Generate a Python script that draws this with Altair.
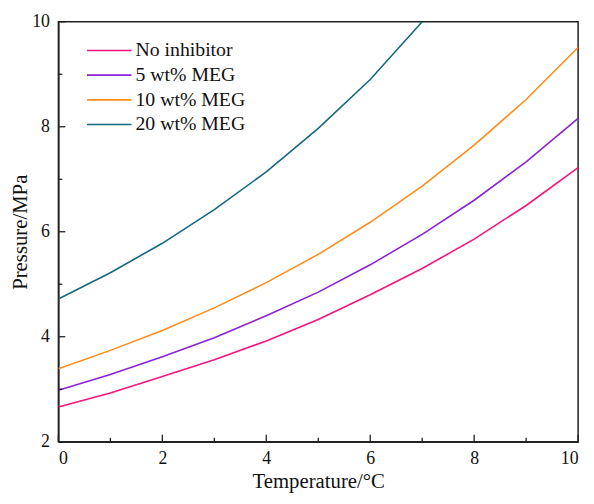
import altair as alt
import pandas as pd

temps = [0, 1, 2, 3, 4, 5, 6, 7, 8, 9, 10]
no_inhibitor = [2.66, 2.93, 3.24, 3.56, 3.92, 4.33, 4.80, 5.30, 5.86, 6.50, 7.22]
meg5 = [2.98, 3.28, 3.62, 3.98, 4.40, 4.85, 5.37, 5.95, 6.60, 7.33, 8.16]
meg10 = [3.39, 3.74, 4.12, 4.55, 5.03, 5.57, 6.18, 6.87, 7.65, 8.52, 9.51]
meg20_t = [0, 1, 2, 3, 4, 5, 6, 7]
meg20 = [4.72, 5.22, 5.78, 6.42, 7.14, 7.97, 8.90, 10.0]

series_names = ["No inhibitor", "5 wt% MEG", "10 wt% MEG", "20 wt% MEG"]
series_colors = ["#F5157D", "#8B22D9", "#FF8C1A", "#13697D"]

x_major = [0, 2, 4, 6, 8, 10]
x_minor = [1, 3, 5, 7, 9]
y_major = [2, 4, 6, 8, 10]
y_minor = [3, 5, 7, 9]

rows = []
for name, xs, ys in [
    (series_names[0], temps, no_inhibitor),
    (series_names[1], temps, meg5),
    (series_names[2], temps, meg10),
    (series_names[3], meg20_t, meg20),
]:
    for t, p in zip(xs, ys):
        rows.append({"Series": name, "T": t, "P": p})
df = pd.DataFrame(rows)
legend_df = pd.DataFrame({"Series": series_names, "i": list(range(len(series_names)))})

W, H = 526, 425
FONT = "Liberation Serif"

xscale = alt.Scale(domain=[0, 10], nice=False, zero=False)
yscale = alt.Scale(domain=[2, 10], nice=False, zero=False)
cscale = alt.Scale(domain=series_names, range=series_colors)

lines = alt.Chart(df).mark_line(strokeWidth=1.6, clip=True).encode(
    x=alt.X("T:Q", scale=xscale,
            axis=alt.Axis(title="Temperature/°C", values=x_major, ticks=False,
                          labelPadding=8, titleY=46, titleBaseline="alphabetic",
                          grid=False, format="d")),
    y=alt.Y("P:Q", scale=yscale,
            axis=alt.Axis(title="Pressure/MPa", values=y_major, ticks=False,
                          labelPadding=9, titleX=-32, titleBaseline="alphabetic",
                          grid=False, format="d")),
    color=alt.Color("Series:N", scale=cscale, legend=None),
    order="T:Q",
)

# legend (manual, inside top-left)
leg_base = alt.Chart(legend_df).transform_calculate(ly="29 + 25 * datum.i")
leg_lines = leg_base.mark_rule(strokeWidth=1.6).encode(
    x=alt.value(29), x2=alt.value(74),
    y=alt.Y("ly:Q", scale=None),
    color=alt.Color("Series:N", scale=cscale, legend=None),
)
leg_text = leg_base.mark_text(align="left", baseline="middle", font=FONT,
                              fontSize=20, color="#111").encode(
    x=alt.value(78), y=alt.Y("ly:Q", scale=None), text="Series:N",
)

xmaj = alt.Chart(pd.DataFrame({"v": x_major})).mark_rule(color="#222", strokeWidth=1.3).encode(
    x=alt.X("v:Q", scale=xscale), y=alt.value(H), y2=alt.value(H - 7))
xmin = alt.Chart(pd.DataFrame({"v": x_minor})).mark_rule(color="#222", strokeWidth=1.3).encode(
    x=alt.X("v:Q", scale=xscale), y=alt.value(H), y2=alt.value(H - 4))
ymaj = alt.Chart(pd.DataFrame({"v": y_major})).mark_rule(color="#222", strokeWidth=1.3).encode(
    y=alt.Y("v:Q", scale=yscale), x=alt.value(0), x2=alt.value(7))
ymin = alt.Chart(pd.DataFrame({"v": y_minor})).mark_rule(color="#222", strokeWidth=1.3).encode(
    y=alt.Y("v:Q", scale=yscale), x=alt.value(0), x2=alt.value(4))

chart = alt.layer(lines, xmaj, xmin, ymaj, ymin, leg_lines, leg_text).properties(
    width=W, height=H,
    background="white",
    autosize=alt.AutoSizeParams(type="none"),
    padding={"left": 51, "top": 11, "right": 8, "bottom": 52},
).configure_view(
    stroke="#222", strokeWidth=1.5
).configure_axis(
    domainColor="#222", domainWidth=1.5,
    labelFont=FONT, labelFontSize=18, labelColor="#111",
    titleFont=FONT, titleFontSize=21, titleFontWeight="normal", titleColor="#111",
)

chart.save("out.html", embed_options={"renderer": "svg", "actions": False})
